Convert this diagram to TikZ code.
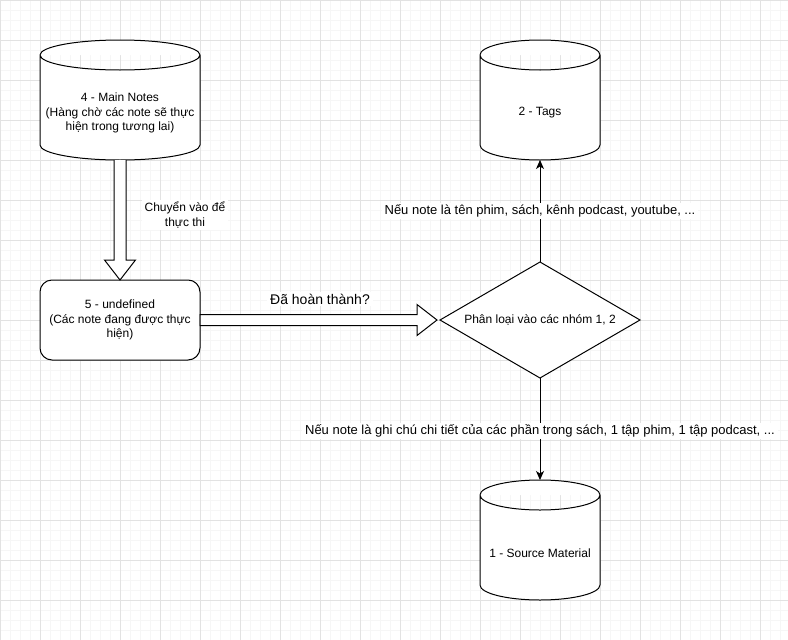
\documentclass[tikz,border=0pt]{standalone}
\usepackage{fontspec}
\setmainfont{Liberation Sans}
\usetikzlibrary{shapes.geometric,arrows.meta,calc,positioning}
\definecolor{gridminor}{HTML}{F6F6F6}
\definecolor{gridmajor}{HTML}{E2E2E2}

\begin{document}
\begin{tikzpicture}[x=1pt,y=-1pt,font=\fontsize{12}{14.5}\selectfont,line width=1pt,
	store/.style={minimum width=160pt,minimum height=120pt,inner sep=0pt,outer sep=0pt},
	task/.style={draw,fill=white,rounded corners=12pt,minimum width=160pt,minimum height=80pt,inner sep=0pt,outer sep=0pt,align=center},
	choice/.style={diamond,draw,fill=white,minimum width=200pt,minimum height=116pt,aspect=1.7,inner sep=0pt,outer sep=0pt},
	hollow/.style={draw,fill=white,line width=1pt,line join=miter},
	flow/.style={-{Stealth[length=9pt,width=8pt,inset=2.5pt]}},
	tag/.style={fill=white,inner xsep=3pt,inner ysep=2pt},
	note/.style={tag,font=\fontsize{13}{15}\selectfont}]
	\useasboundingbox (0,0) rectangle (788,640);
	\fill[white] (0,0) rectangle (788,640);
	\foreach \x in {10,20,...,780} \draw[gridminor] (\x,0) -- (\x,640);
	\foreach \y in {10,20,...,630} \draw[gridminor] (0,\y) -- (788,\y);
	\foreach \x in {0,40,...,760} \draw[gridmajor] (\x,0) -- (\x,640);
	\foreach \y in {0,40,...,640} \draw[gridmajor] (0,\y) -- (788,\y);

	\node[store] (main) at (120,100) {};
	\node[task] (doing) at (120,320) {5 - undefined \\ (Các note đang được thực \\ hiện)};
	\node[choice] (sort) at (540,320) {Phân loại vào các nhóm 1, 2};
	\node[store,minimum width=120pt] (tags) at (540,100) {};
	\node[store,minimum width=120pt] (source) at (540,540) {};

	% cylinders
	\foreach \n/\r in {main/80pt,tags/60pt,source/60pt}
		\draw[fill=white] ($(\n.north west)+(0,15)$) arc[start angle=180,end angle=0,x radius=\r,y radius=15pt]
			-- ($(\n.south east)+(0,-15)$) arc[start angle=0,end angle=-180,x radius=\r,y radius=15pt] -- cycle
			($(\n.north west)+(0,15)$) arc[start angle=180,end angle=360,x radius=\r,y radius=15pt];
	\node[align=center] (mainname) at ($(main)+(0,13)$) {4 - Main Notes \\ (Hàng chờ các note sẽ thực \\ hiện trong tương lai)};
	\node (tagsname) at ($(tags)+(0,13)$) {2 - Tags};
	\node (sourcename) at ($(source)+(0,13)$) {1 - Source Material};

	% hollow arrows
	\path[hollow] ($(main.south)+(-6,0)$) -- ($(doing.north)+(-6,-20)$) -- ($(doing.north)+(-15.5,-20)$) -- (doing.north)
		-- ($(doing.north)+(15.5,-20)$) -- ($(doing.north)+(6,-20)$) -- ($(main.south)+(6,0)$);
	\path[hollow] ($(doing.east)+(0,-5.5)$) -- ($(sort.west)+(-23,-5.5)$) -- ($(sort.west)+(-23,-15.5)$) -- ($(sort.west)+(-3,0)$)
		-- ($(sort.west)+(-23,15.5)$) -- ($(sort.west)+(-23,5.5)$) -- ($(doing.east)+(0,5.5)$) -- cycle;
	\node[tag,align=center] (go) at (185,215) {Chuyển vào để \\ thực thi};
	\node[tag,font=\fontsize{14}{16}\selectfont] (done) at (320,299) {Đã hoàn thành?};

	\draw[flow] (sort.north) -- node[note] {Nếu note là tên phim, sách, kênh podcast, youtube, ...} (tags.south);
	\draw[flow] (sort.south) -- node[note,pos=0.52] {Nếu note là ghi chú chi tiết của các phần trong sách, 1 tập phim, 1 tập podcast, ...} (source.north);
\end{tikzpicture}
\end{document}
